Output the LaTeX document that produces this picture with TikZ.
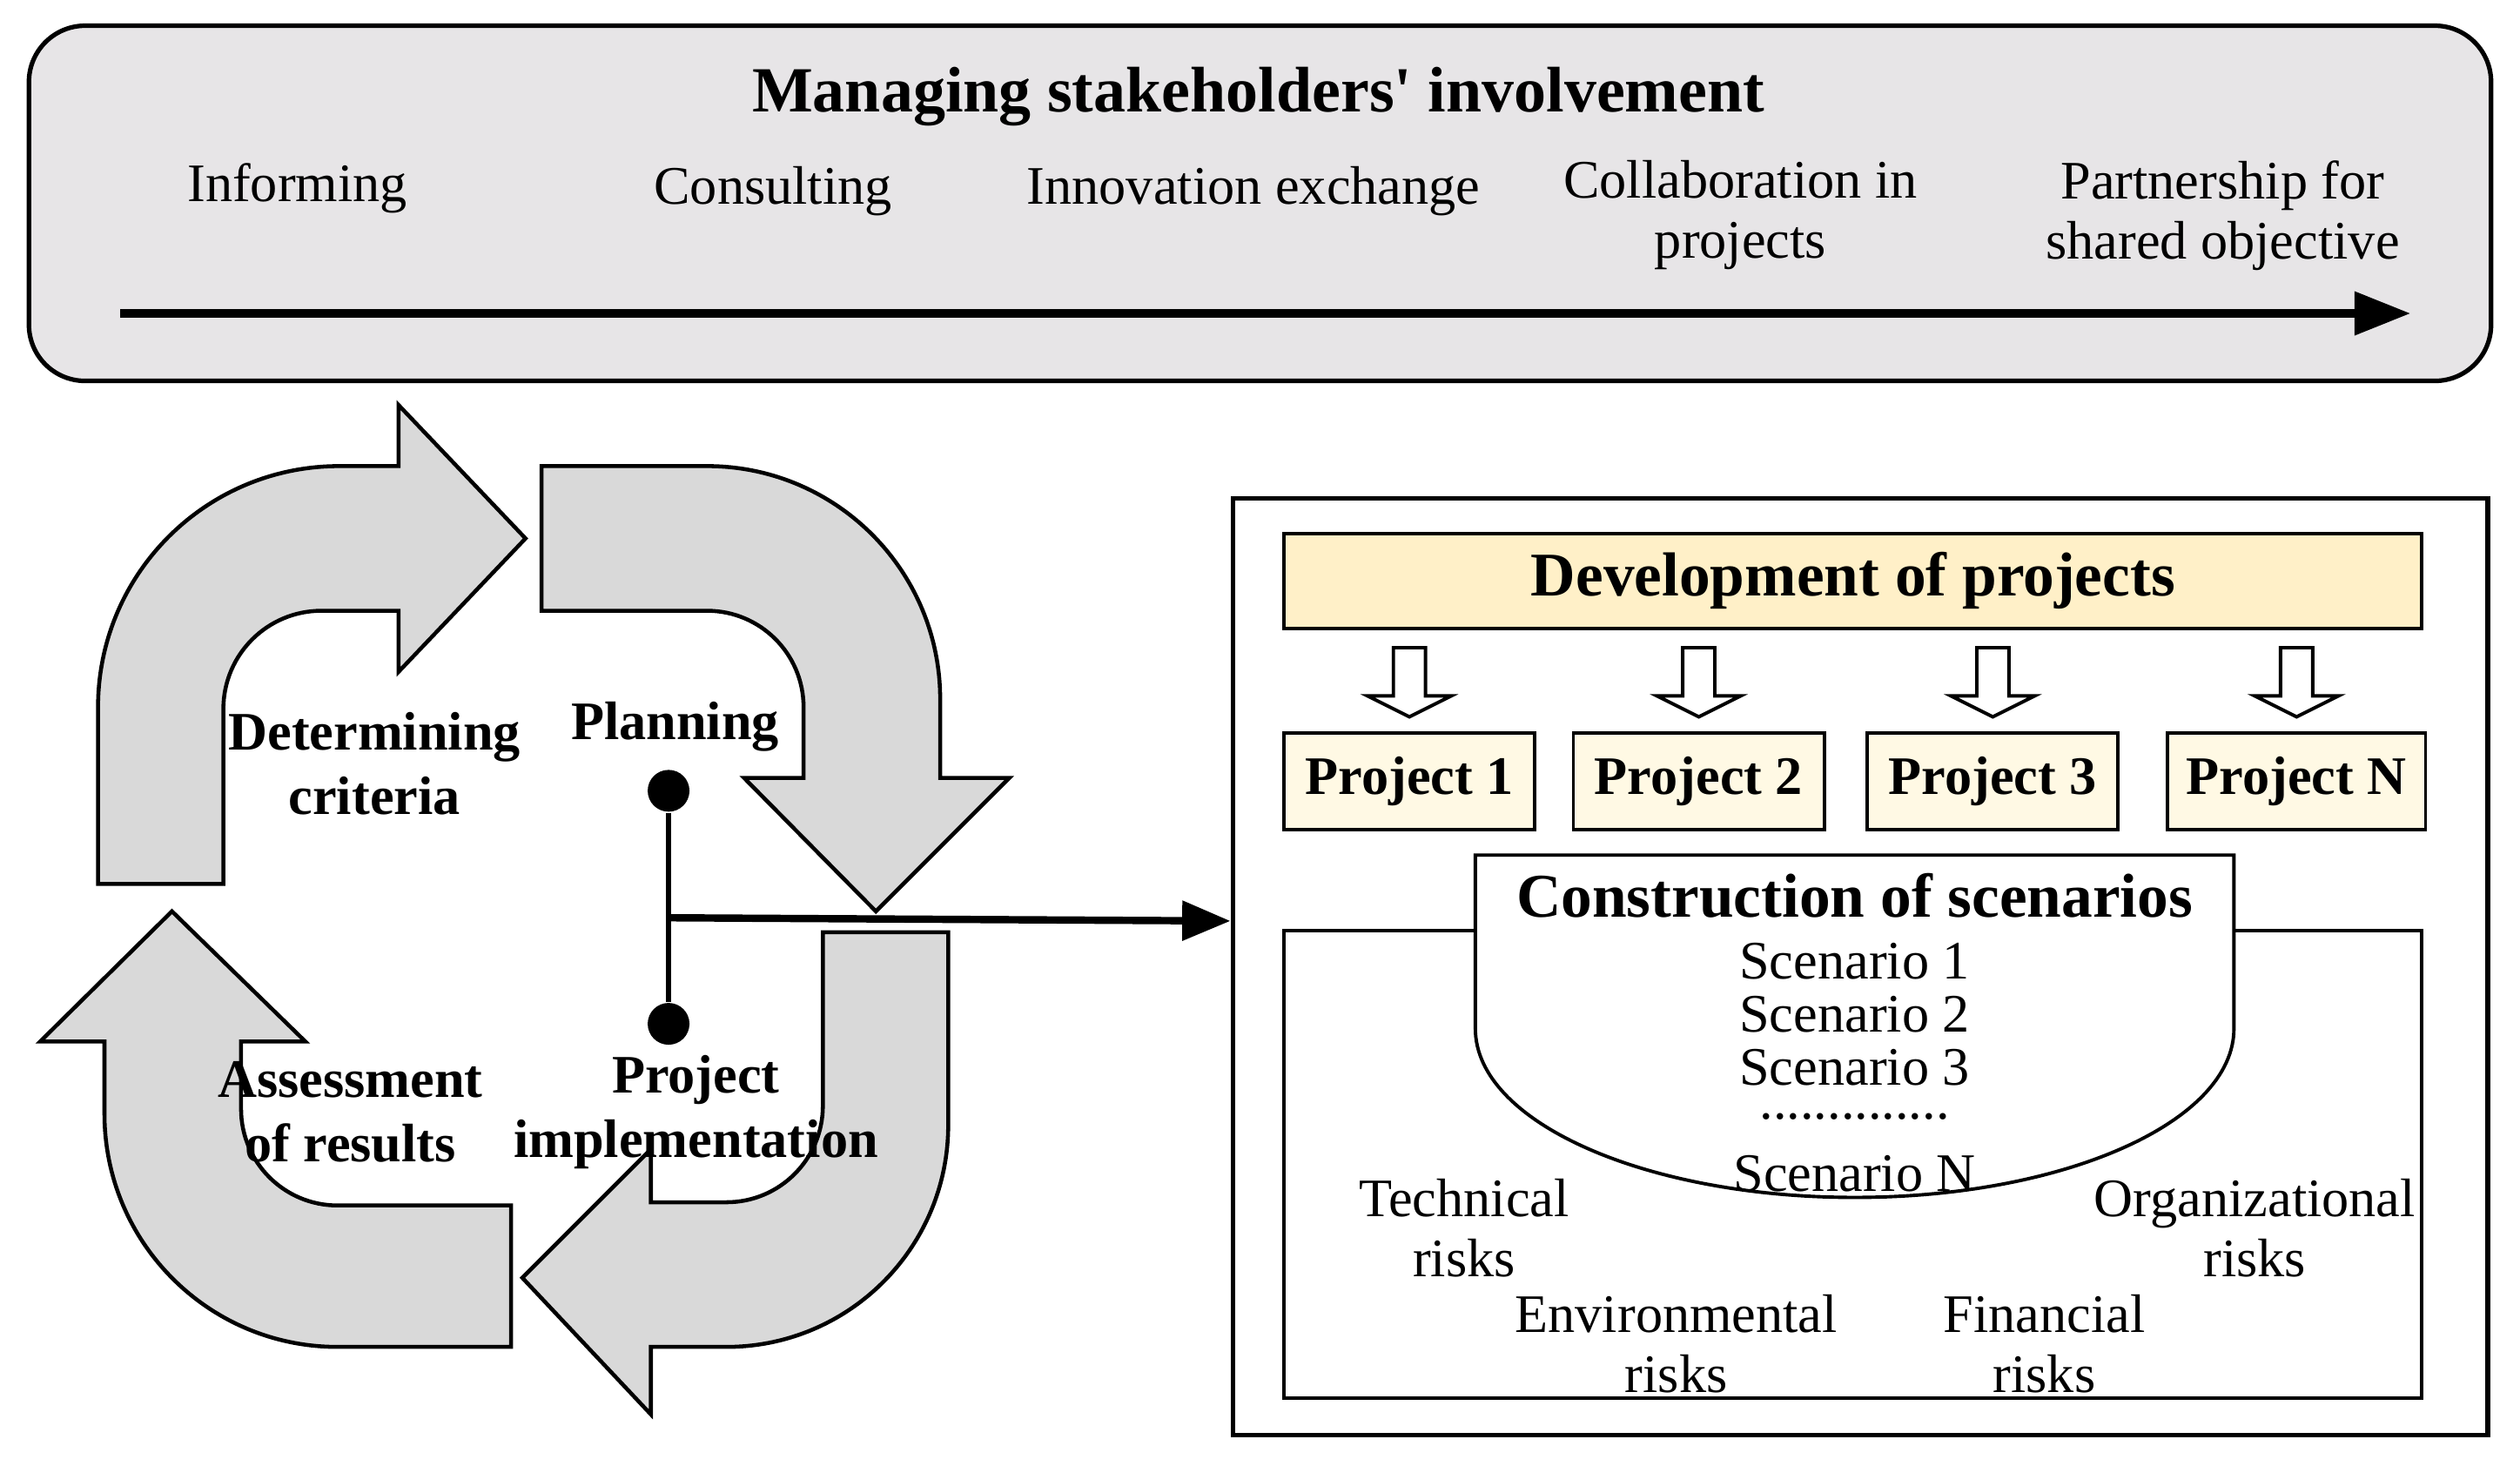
\documentclass[tikz,border=0pt]{standalone}
\usepackage{fontspec}
\setmainfont{Liberation Serif}
\newfontfamily\plainap[Ligatures=ResetAll]{Liberation Serif}
\usetikzlibrary{arrows.meta}
\definecolor{topgray}{RGB}{231,229,231}
\definecolor{arrgray}{RGB}{217,217,217}
\definecolor{devfill}{RGB}{255,240,200}
\definecolor{projfill}{RGB}{255,249,228}
\tikzset{
  body/.style={font=\fontsize{9.6}{10.6}\selectfont, align=center},
  bbody/.style={font=\bfseries\fontsize{9.6}{11.4}\selectfont, align=center},
  cyc/.style={draw=black, line width=0.7pt, fill=arrgray},
  pbox/.style={draw=black, line width=0.6pt, fill=projfill},
  hollow/.style={draw=black, line width=0.6pt, fill=white},
}
\begin{document}
\begin{tikzpicture}[x=0.1mm,y=-0.1mm]
\useasboundingbox (0,0) rectangle (1568,912);
% top box
\draw[line width=0.8pt, fill=topgray, rounded corners=3.5mm] (18,16) rectangle (1550,237);
\node[font=\bfseries\fontsize{11.4}{14}\selectfont] (title) at (783,60) {Managing stakeholders{\plainap\bfseries '} involvement};
\node[body] (inf) at (185,117) {Informing};
\node[body] (con) at (481,119) {Consulting};
\node[body] (inn) at (780,119) {Innovation exchange};
\node[body] (col) at (1083,134) {Collaboration in\\projects};
\node[body] (par) at (1383,134) {Partnership for\\shared objective};
\coordinate (as) at (75,195); \coordinate (ae) at (1500,195);
\draw[line width=1.6pt, -{Triangle[length=3.5mm,width=2.6mm]}] (as) -- (ae);
% cycle arrows
\draw[cyc] (61,550) -- (61,440) arc[start angle=180,end angle=270,radius=150] -- (248,290) -- (248,252) -- (327,335) -- (248,418) -- (248,380) -- (200,380) arc[start angle=270,end angle=180,radius=61] -- (139,550) -- cycle;
\draw[cyc] (337,290) -- (440,290) arc[start angle=270,end angle=360,radius=145] -- (585,484) -- (628,484) -- (545,567) -- (463,484) -- (500,484) -- (500,440) arc[start angle=0,end angle=-90,radius=60] -- (337,380) -- cycle;
\draw[cyc] (512,580) -- (590,580) -- (590,700) arc[start angle=0,end angle=90,radius=138] -- (405,838) -- (405,880) -- (325,795) -- (405,715) -- (405,748) -- (452,748) arc[start angle=90,end angle=0,radius=60] -- cycle;
\draw[cyc] (318,838) -- (210,838) arc[start angle=90,end angle=180,radius=145] -- (65,648) -- (25,648) -- (107,567) -- (190,648) -- (150,648) -- (150,690) arc[start angle=180,end angle=90,radius=60] -- (318,750) -- cycle;
\node[bbody] (det) at (233,475) {Determining\\criteria};
\node[bbody] (pla) at (420,452) {Planning};
\node[bbody] (ass) at (218,692) {Assessment\\of results};
\node[bbody] (imp) at (433,692) {Project\\implementation};
\node[circle, fill=black, inner sep=0pt, minimum size=2.6mm] (d1) at (416,492) {};
\node[circle, fill=black, inner sep=0pt, minimum size=2.6mm] (d2) at (416,637) {};
\draw[line width=1pt] (d1) -- (d2);
\coordinate (mid) at (416,571);
% right box
\node[draw=black, line width=0.8pt, minimum width=78.1mm, minimum height=58.3mm, inner sep=0pt] (rbox) at (1157.5,601.5) {};
\draw[line width=1.3pt, -{Triangle[length=3mm,width=2.4mm]}] (mid) -- ([yshift=-0.2mm]mid -| rbox.west);
\node[draw=black, line width=0.6pt, fill=devfill, minimum width=70.8mm, minimum height=5.9mm, font=\bfseries\fontsize{11}{13}\selectfont] (dev) at (1153,361.5) {Development of projects};
\foreach \n/\x/\t in {p1/877/Project 1, p2/1057/Project 2, p3/1240/Project 3, pn/1429/Project N}{
  \node[pbox, minimum width=15.6mm, minimum height=6mm, font=\bfseries\fontsize{9.6}{11}\selectfont] (\n) at (\x,486) {\t};
  \draw[hollow] (\x-10,403) -- (\x+10,403) -- (\x+10,433) -- (\x+26,433) -- (\x,446) -- (\x-26,433) -- (\x-10,433) -- cycle;
}
\node[draw=black, line width=0.6pt, minimum width=70.8mm, minimum height=29.1mm, inner sep=0pt] (inner) at (1153,724.5) {};
\draw[line width=0.6pt, fill=white] (918,532) -- (1390,532) -- (1390,640) arc[x radius=236, y radius=105, start angle=0, end angle=180] -- cycle;
\node[font=\bfseries\fontsize{11}{13}\selectfont] (cs) at (1154,557) {Construction of scenarios};
\node[body] (s1) at (1154,598) {Scenario 1};
\node[body] (s2) at (1154,631) {Scenario 2};
\node[body] (s3) at (1154,664) {Scenario 3};
\node[body] (sd) at (1154,695) {..............};
\node[body] (sn) at (1154,730) {Scenario N};
\node[body] (tr) at (911,764) {Technical\\risks};
\node[body] (orr) at (1403,764) {Organizational\\risks};
\node[body] (er) at (1043,836) {Environmental\\risks};
\node[body] (fr) at (1272,836) {Financial\\risks};
\end{tikzpicture}
\end{document}
